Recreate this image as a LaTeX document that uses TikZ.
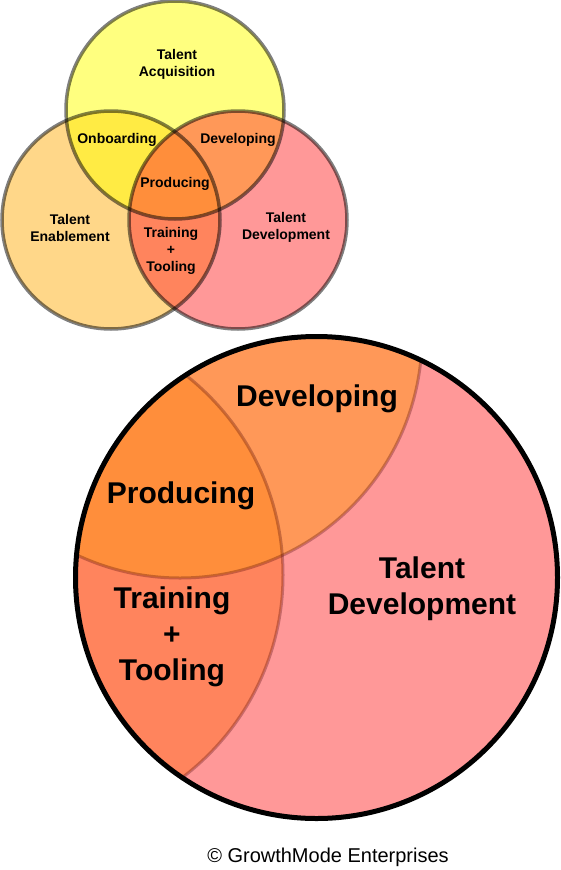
\documentclass[tikz,border=0pt]{standalone}
\usepackage{fontspec}
\setmainfont{Liberation Sans}
\definecolor{cEna}{HTML}{FFB115}
\definecolor{cAcq}{HTML}{FFFF00}
\definecolor{cDev}{HTML}{FF3333}
\begin{document}
\begin{tikzpicture}[x=1pt,y=-1pt,
  lblsmall/.style={font=\bfseries\fontsize{14}{17}\selectfont, align=center, inner sep=0pt},
  lblbig/.style={font=\bfseries\fontsize{30}{36}\selectfont, align=center, inner sep=0pt},
  lblcopy/.style={font=\fontsize{20}{22}\selectfont, inner sep=0pt},
  ena/.style={fill=cEna, fill opacity=0.5},
  acq/.style={fill=cAcq, fill opacity=0.5},
  dev/.style={fill=cDev, fill opacity=0.5},
  ring/.style={draw=black, draw opacity=0.5, line width=3.5pt},
  innerarc/.style={draw=black!70!red, draw opacity=0.3, line width=3pt},
  bigring/.style={draw=black, line width=5pt}]
\fill[white] (0,0) rectangle (560,870);
\useasboundingbox (0,0) rectangle (560,870);
% top Venn
\coordinate (acqc) at (175,110);
\coordinate (enac) at (111,220);
\coordinate (devc) at (238,220);
\path[ena] (enac) circle[radius=109];
\path[acq] (acqc) circle[radius=109];
\path[dev] (devc) circle[radius=109];
\path[ring] (enac) circle[radius=109];
\path[ring] (acqc) circle[radius=109];
\path[ring] (devc) circle[radius=109];
\node[lblsmall] (tacq) at (177,64.5) {Talent\\Acquisition};
\node[lblsmall] (tonb) at (117,140) {Onboarding};
\node[lblsmall] (tdev) at (238,140) {Developing};
\node[lblsmall] (tpro) at (175,184) {Producing};
\node[lblsmall] (tena) at (70,227.5) {Talent\\Enablement};
\node[lblsmall] (ttra) at (171,250.5) {Training\\+\\Tooling};
\node[lblsmall] (ttd) at (286,227.5) {Talent\\Development};
% zoomed circle
\coordinate (bigc) at (316.5,577.5);
\coordinate (benac) at (29,575);
\coordinate (bacqc) at (180,336);
\begin{scope}
\clip (bigc) circle[radius=241];
\path[ena] (benac) circle[radius=254];
\path[acq] (bacqc) circle[radius=242];
\path[dev] (bigc) circle[radius=241];
\path[innerarc] (benac) circle[radius=254];
\path[innerarc] (bacqc) circle[radius=242];
\end{scope}
\path[bigring] (bigc) circle[radius=241];
\node[lblbig] (bdev) at (317,399) {Developing};
\node[lblbig] (bpro) at (181,496) {Producing};
\node[lblbig] (btra) at (172,637) {Training\\+\\Tooling};
\node[lblbig] (btd) at (422,589) {Talent\\Development};
\node[lblcopy] (copy) at (328,857) {© GrowthMode Enterprises};
\end{tikzpicture}
\end{document}
